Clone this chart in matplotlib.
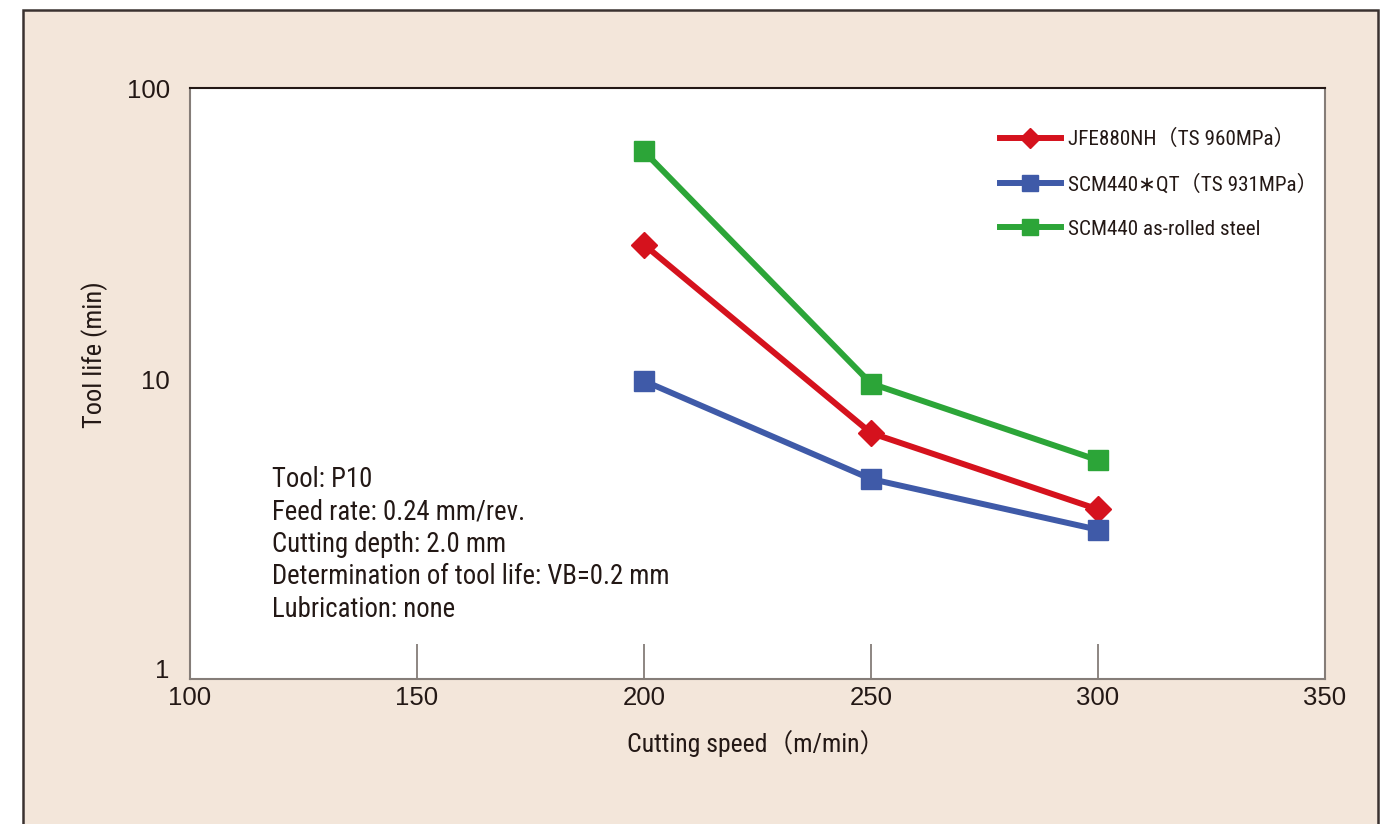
import matplotlib
matplotlib.use("Agg")
import matplotlib.pyplot as plt
from matplotlib import font_manager as fm
from matplotlib.patches import Rectangle
from matplotlib.lines import Line2D
from matplotlib.transforms import ScaledTranslation

# ---- data ----
speeds = [200, 250, 300]
jfe880nh = [29.5, 6.8, 3.75]
scm440_qt = [10.2, 4.75, 3.2]
scm440_rolled = [61, 10.0, 5.5]
series_labels = ["JFE880NH（TS 960MPa）", "SCM440∗QT（TS 931MPa）", "SCM440 as-rolled steel"]
x_ticks = [100, 150, 200, 250, 300, 350]
y_ticks = [1, 10, 100]
y_tick_labels = ["1", "10", "100"]
notes = ["Tool: P10",
         "Feed rate: 0.24 mm/rev.",
         "Cutting depth: 2.0 mm",
         "Determination of tool life: VB=0.2 mm",
         "Lubrication: none"]

BG = "#f3e6da"
TXT = "#231815"
RED = "#d5121d"
BLUE = "#3f5aa8"
GREEN = "#2ca538"

available = set(f.name for f in fm.fontManager.ttflist)
cond = next((n for n in ["Roboto Condensed", "Archivo Narrow", "PT Sans Narrow",
                         "Barlow Condensed", "Asap Condensed", "Liberation Sans Narrow"]
             if n in available), "DejaVu Sans")
NARROW = [cond, "Noto Sans CJK JP", "DejaVu Sans"]
REG = ["Liberation Sans", "DejaVu Sans"]

W, H = 1397, 824
fig = plt.figure(figsize=(W / 100, H / 100), dpi=100)
fig.patch.set_facecolor("white")

# beige panel with frame
fig.patches.append(Rectangle((23 / W, -0.05), (1378 - 23) / W, (H - 10) / H + 0.05,
                             transform=fig.transFigure, facecolor=BG,
                             edgecolor="#3a3230", linewidth=1.8, zorder=-5))

ax = fig.add_axes([190 / W, 1 - 679 / H, (1325 - 190) / W, (679 - 88) / H])
ax.set_zorder(5)
ax.set_facecolor("white")
ax.set_yscale("log")
ax.set_xlim(100, 350)
ax.set_ylim(1, 100)

for s in ["left", "right", "bottom"]:
    ax.spines[s].set_color("#857d78")
    ax.spines[s].set_linewidth(1.5)
ax.spines["top"].set_color(TXT)
ax.spines["top"].set_linewidth(1.5)

ax.set_xticks(x_ticks)
ax.set_xticklabels([str(v) for v in x_ticks], fontsize=18.5, color=TXT, family=REG)
ax.tick_params(axis="x", direction="in", length=25, width=1.3, color="#857d78", pad=5)
ax.set_yticks(y_ticks)
ax.set_yticklabels(y_tick_labels, fontsize=18.5, color=TXT, family=REG)
ax.yaxis.set_minor_locator(matplotlib.ticker.NullLocator())
ax.tick_params(axis="y", length=0, pad=14.5)
# the reference lifts the lower y labels slightly
for tick, dy in zip(ax.yaxis.get_major_ticks(), [10, 4, 0]):
    tick.label1.set_transform(tick.label1.get_transform()
                              + ScaledTranslation(0, dy / 100, fig.dpi_scale_trans))

lw = 4.3
ax.plot(speeds, jfe880nh, color=RED, lw=lw, marker="D", markersize=13.5, zorder=3)
ax.plot(speeds, scm440_qt, color=BLUE, lw=lw, marker="s", markersize=14.5, zorder=3)
ax.plot(speeds, scm440_rolled, color=GREEN, lw=lw, marker="s", markersize=14.5, zorder=3)

handles = [Line2D([], [], color=RED, lw=lw, marker="D", markersize=10.5),
           Line2D([], [], color=BLUE, lw=lw, marker="s", markersize=11),
           Line2D([], [], color=GREEN, lw=lw, marker="s", markersize=11)]
leg = ax.legend(handles, series_labels, loc="upper left",
                bbox_to_anchor=((1000 - 190) / 1135, (679 - 129) / 591),
                frameon=False, handlelength=2.88, handletextpad=0.34, labelspacing=1.19,
                borderpad=0, borderaxespad=0,
                prop={"family": NARROW, "size": 15.2})
for t in leg.get_texts():
    t.set_color(TXT)

fig.text(756 / W, 1 - 752 / H, "Cutting speed（m/min）", fontsize=18.5, color=TXT,
         family=NARROW, ha="center", va="baseline")
fig.text(102 / W, 1 - 355 / H, "Tool life (min)", fontsize=19, color=TXT,
         family=NARROW, ha="center", va="baseline", rotation=90, rotation_mode="anchor")

for i, line in enumerate(notes):
    fig.text(272 / W, 1 - (487 + 32.5 * i) / H, line, fontsize=19.3, color=TXT,
             family=NARROW, ha="left", va="baseline", zorder=10)

fig.savefig("out.png", dpi=100, facecolor=fig.get_facecolor())
